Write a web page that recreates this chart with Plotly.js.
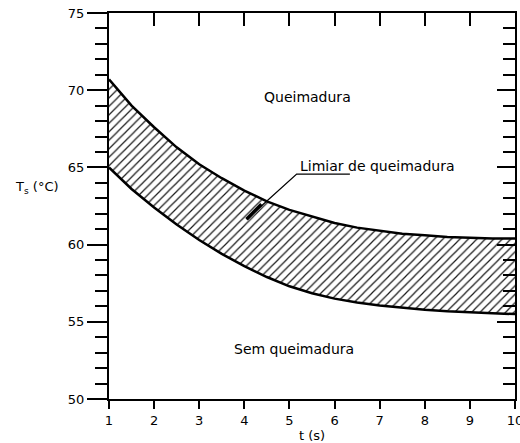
<!DOCTYPE html>
<html>
<head>
<meta charset="utf-8">
<script src="https://cdn.plot.ly/plotly-3.0.1.min.js"></script>
<style>html,body{margin:0;padding:0;background:#fff;}#chart{width:520px;height:443px;}</style>
</head>
<body>
<div id="chart"></div>
<script>
// time (s)
const tValues = [1, 1.5, 2, 2.5, 3, 3.5, 4, 4.5, 5, 5.5, 6, 6.5, 7, 7.5, 8, 8.5, 9, 9.5, 10];
// upper limit of burn threshold band (°C)
const upperTs = [70.7, 69.0, 67.6, 66.3, 65.2, 64.3, 63.5, 62.8, 62.25, 61.8, 61.4, 61.1, 60.9, 60.7, 60.6, 60.5, 60.45, 60.4, 60.4];
// lower limit of burn threshold band (°C)
const lowerTs = [65.0, 63.6, 62.4, 61.3, 60.3, 59.4, 58.6, 57.9, 57.3, 56.85, 56.5, 56.25, 56.05, 55.9, 55.78, 55.68, 55.6, 55.55, 55.5];
const xTickVals = [1, 2, 3, 4, 5, 6, 7, 8, 9, 10];
const xTickText = ['1', '2', '3', '4', '5', '6', '7', '8', '9', '10'];
const yTickVals = [50, 55, 60, 65, 70, 75];
const yTickText = ['50', '55', '60', '65', '70', '75'];

const FONT = 'DejaVu Sans, sans-serif';

const traces = [
  {x: tValues, y: lowerTs, mode: 'lines', line: {color: '#000', width: 2.5}, showlegend: false, hoverinfo: 'skip'},
  {x: tValues, y: upperTs, mode: 'lines', line: {color: '#000', width: 2.5}, fill: 'tonexty',
   fillcolor: '#fff',
   fillpattern: {shape: '/', size: 6, solidity: 0.2, fgcolor: '#1a1a1a', bgcolor: '#fff', fillmode: 'replace'},
   showlegend: false, hoverinfo: 'skip'},
  {x: tValues, y: upperTs, xaxis: 'x2', yaxis: 'y2', mode: 'lines', line: {color: 'rgba(0,0,0,0)', width: 0}, showlegend: false, hoverinfo: 'skip'}
];

const layout = {
  width: 520, height: 443,
  margin: {l: 109, r: 5, t: 13, b: 44},
  paper_bgcolor: '#fff', plot_bgcolor: '#fff',
  font: {family: FONT, color: '#000', size: 13},
  showlegend: false,
  xaxis: {
    range: [1, 10], showgrid: false, zeroline: false,
    showline: true, linecolor: '#000', linewidth: 2,
    ticks: 'outside', ticklen: 8, tickwidth: 2, tickcolor: '#000',
    tickvals: xTickVals, ticktext: xTickText, ticklabeloverflow: 'allow',
    tickfont: {family: FONT, size: 13, color: '#000'},
    title: {text: 't (s)', font: {family: FONT, size: 13, color: '#000'}, standoff: 4}
  },
  xaxis2: {
    range: [1, 10], overlaying: 'x', side: 'top', anchor: 'y',
    showgrid: false, zeroline: false,
    showline: true, linecolor: '#000', linewidth: 2,
    ticks: 'inside', ticklen: 13, tickwidth: 2, tickcolor: '#000',
    tickvals: xTickVals, showticklabels: false
  },
  yaxis: {
    range: [50, 75], showgrid: false, zeroline: false,
    showline: true, linecolor: '#000', linewidth: 2,
    ticks: 'outside', ticklen: 20, tickwidth: 2, tickcolor: '#000',
    tickvals: yTickVals, ticktext: yTickText,
    tickfont: {family: FONT, size: 13, color: '#000'},
    minor: {dtick: 1, ticks: 'outside', ticklen: 12, tickwidth: 2, tickcolor: '#000', showgrid: false}
  },
  yaxis2: {
    range: [50, 75], overlaying: 'y', side: 'right', anchor: 'x',
    showgrid: false, zeroline: false,
    showline: true, linecolor: '#000', linewidth: 2,
    ticks: 'inside', ticklen: 18, tickwidth: 2, tickcolor: '#000',
    tickvals: yTickVals, showticklabels: false,
    minor: {dtick: 1, ticks: 'inside', ticklen: 12, tickwidth: 2, tickcolor: '#000', showgrid: false}
  },
  annotations: [
    {xref: 'paper', yref: 'paper', x: -0.236, xanchor: 'left', y: 0.547, text: 'T<sub>s</sub> (°C)', showarrow: false,
     font: {family: FONT, size: 13, color: '#000'}},
    {xref: 'x', yref: 'y', x: 5.4, y: 69.56, text: 'Queimadura', showarrow: false,
     font: {family: FONT, size: 14, color: '#000'}},
    {xref: 'x', yref: 'y', x: 5.2, y: 65.1, text: 'Limiar de queimadura', showarrow: false, xanchor: 'left',
     font: {family: FONT, size: 14, color: '#000'}},
    {xref: 'x', yref: 'y', x: 5.1, y: 53.24, text: 'Sem queimadura', showarrow: false,
     font: {family: FONT, size: 14, color: '#000'}}
  ],
  shapes: [
    {type: 'path', xref: 'x', yref: 'y', path: 'M 4.05 61.64 L 5.16 64.57 L 6.34 64.57',
     line: {color: '#000', width: 1.3}},
    {type: 'line', xref: 'x', yref: 'y', x0: 4.05, y0: 61.64, x1: 4.38, y1: 62.62,
     line: {color: '#000', width: 3.5}}
  ]
};

Plotly.newPlot('chart', traces, layout, {staticPlot: true, displayModeBar: false});
</script>
</body>
</html>
